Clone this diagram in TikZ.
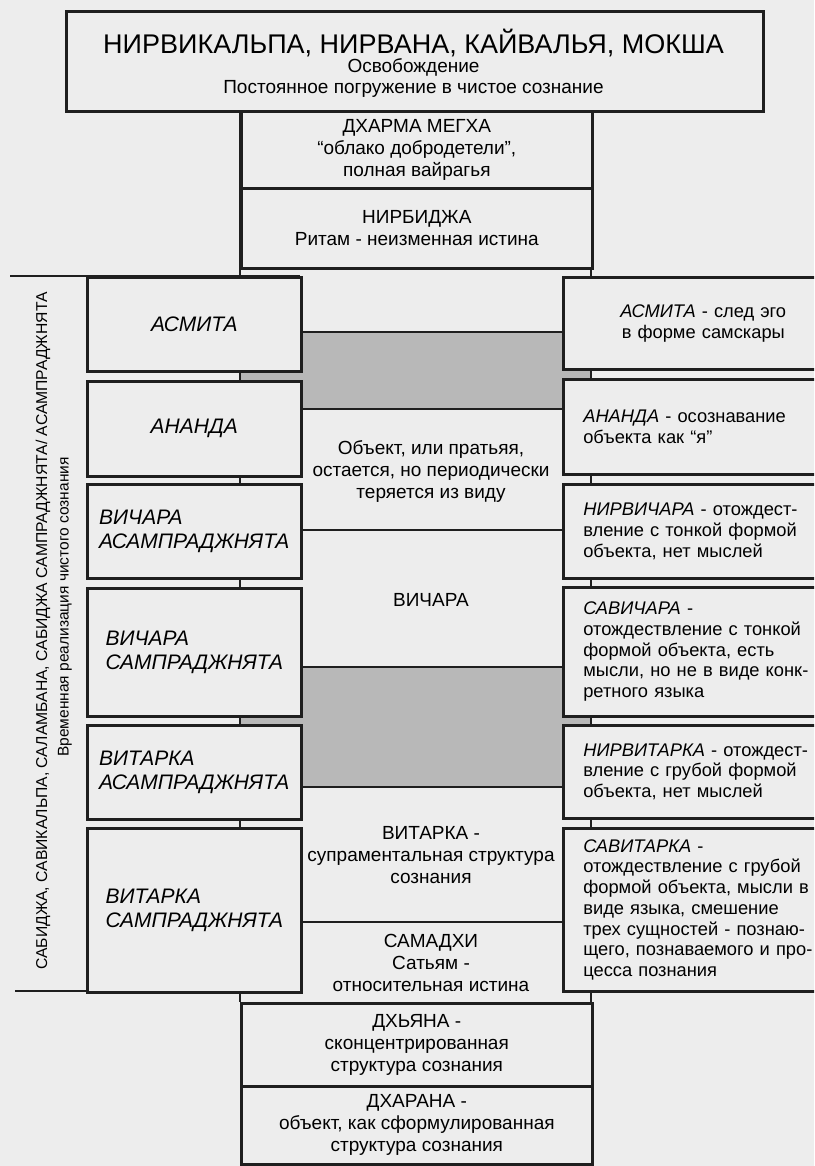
\documentclass[tikz,border=0pt]{standalone}
\usepackage{fontspec}
\setmainfont{Liberation Sans}
\usetikzlibrary{positioning}

\definecolor{paper}{gray}{0.93}
\definecolor{bandgray}{gray}{0.72}
\definecolor{ink}{gray}{0.12}

\newcommand{\bodyfont}{\fontsize{19}{22}\selectfont}
\newcommand{\notefont}{\fontsize{18.3}{20.7}\selectfont}
\newcommand{\labelfont}{\fontsize{21}{23.5}\selectfont\itshape}

\begin{document}
\begin{tikzpicture}[x=1pt, y=-1pt,
  box/.style={rectangle, draw=ink, line width=2.6pt, fill=paper, anchor=north west,
    inner sep=0pt, font=\bodyfont, align=center},
  leftbox/.style={box, minimum width=214pt, font=\labelfont, align=left},
  rightbox/.style={box, minimum width=280pt, text width=240pt, inner xsep=20pt,
    font=\notefont, align=left},
  midbox/.style={box, minimum width=351pt},
  txt/.style={font=\bodyfont, align=center, inner sep=0pt},
  rule/.style={draw=ink, line width=2.6pt}
]
  \path[use as bounding box, fill=paper] (0,0) rectangle (814,1166);
  \clip (0,0) rectangle (814,1166);

  % middle column behind the side boxes
  \fill[bandgray] (240,332) rectangle (591,409);
  \fill[bandgray] (240,667) rectangle (591,787);
  \draw[rule] (240,110) -- (240,1002);
  \draw[rule] (591,110) -- (591,1002);
  \foreach \y in {332,409,530,667,787,922}
    \draw[rule] (240,\y) -- (591,\y);

  % frame of the left column
  \draw[rule] (10,276) -- (300,276);
  \draw[rule] (15,991) -- (300,991);

  % top of the ladder
  \node[box, minimum width=697pt, minimum height=100pt] (moksha) at (65,10) {};
  \node[txt, font=\fontsize{27}{30}\selectfont] (mokshaT) at (413.5,43)
    {НИРВИКАЛЬПА, НИРВАНА, КАЙВАЛЬЯ, МОКША};
  \node[txt] (liberation) at (413.5,67) {Освобождение};
  \node[txt] (immersion) at (413.5,89) {Постоянное погружение в чистое сознание};

  \node[midbox, minimum height=77pt] (dharma) at (240,110)
    {ДХАРМА МЕГХА\\“облако добродетели”,\\полная вайрагья};
  \node[midbox, minimum height=80pt] (nirbija) at (240,187)
    {НИРБИДЖА\\Ритам - неизменная истина};

  % left column
  \node[leftbox, minimum height=94pt] (asmitaL) at (86,276) {АСМИТА};
  \node[leftbox, minimum height=95pt] (anandaL) at (86,380) {АНАНДА};
  \node[leftbox, minimum height=94pt] (vicharaA) at (86,483) {ВИЧАРА\\АСАМПРАДЖНЯТА};
  \node[leftbox, minimum height=128pt] (vicharaS) at (86,587) {ВИЧАРА\\САМПРАДЖНЯТА};
  \node[leftbox, minimum height=94pt] (vitarkaA) at (86,724) {ВИТАРКА\\АСАМПРАДЖНЯТА};
  \node[leftbox, minimum height=164pt] (vitarkaS) at (86,827) {ВИТАРКА\\САМПРАДЖНЯТА};

  \node[rotate=90, font=\fontsize{15.7}{18}\selectfont, inner sep=0pt] (sabija) at (43,631)
    {САБИДЖА, САВИКАЛЬПА, САЛАМБАНА, САБИДЖА САМПРАДЖНЯТА/ АСАМПРАДЖНЯТА};
  \node[rotate=90, font=\fontsize{15.5}{18}\selectfont, inner sep=0pt] (temporal) at (65,607)
    {Временная реализация чистого сознания};

  % right column
  \node[rightbox, minimum height=92pt, text width=230pt, inner xsep=20pt, align=center] (asmitaR) at (562,276)
    {\textit{АСМИТА} - след эго\\в форме самскары};
  \node[rightbox, minimum height=95pt] (anandaR) at (562,378)
    {\textit{АНАНДА} - осознавание\\объекта как “я”};
  \node[rightbox, minimum height=94pt] (nirvichara) at (562,483)
    {\textit{НИРВИЧАРА} - отождест-\\вление с тонкой формой\\объекта, нет мыслей};
  \node[rightbox, minimum height=129pt] (savichara) at (562,586)
    {\textit{САВИЧАРА} -\\отождествление с тонкой\\формой объекта, есть\\мысли, но не в виде конк-\\ретного языка};
  \node[rightbox, minimum height=93pt] (nirvitarka) at (562,724)
    {\textit{НИРВИТАРКА} - отождест-\\вление с грубой формой\\объекта, нет мыслей};
  \node[rightbox, minimum height=163pt] (savitarka) at (562,827)
    {\textit{САВИТАРКА} -\\отождествление с грубой\\формой объекта, мысли в\\виде языка, смешение\\трех сущностей - познаю-\\щего, познаваемого и про-\\цесса познания};

  % middle column texts
  \node[txt] (pratyaya) at (431,472)
    {Объект, или пратьяя,\\остается, но периодически\\теряется из виду};
  \node[txt] (vichara) at (431,600) {ВИЧАРА};
  \node[txt] (vitarka) at (431,855)
    {ВИТАРКА -\\супраментальная структура\\сознания};
  \node[txt] (samadhi) at (431,963)
    {САМАДХИ\\Сатьям -\\относительная истина};

  % bottom of the ladder
  \node[midbox, minimum height=83pt] (dhyana) at (240,1002)
    {ДХЬЯНА -\\сконцентрированная\\структура сознания};
  \node[midbox, minimum height=78pt] (dharana) at (240,1085)
    {ДХАРАНА -\\объект, как сформулированная\\структура сознания};
\end{tikzpicture}
\end{document}
